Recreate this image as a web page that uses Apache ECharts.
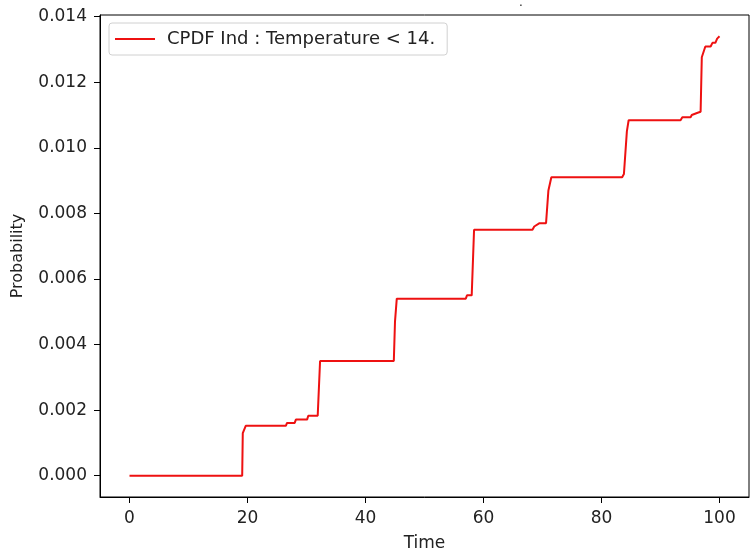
<!DOCTYPE html>
<html>
<head>
  <meta charset="UTF-8">
  <title>CPDF</title>
  <script src="https://cdn.jsdelivr.net/npm/echarts@6/dist/echarts.min.js"></script>
  <style>
    html, body { margin: 0; padding: 0; background: #fff; }
    #main { width: 750px; height: 557px; }
  </style>
</head>
<body>
<div id="main"></div>
<script>
// step curve
var times = [0, 19.1, 19.2, 19.7, 26.5, 26.7, 28.0, 28.2, 30.1, 30.3, 31.9, 32.3,
             44.8, 45.0, 45.3, 57.0, 57.2, 58.0, 58.4, 68.3, 68.6, 69.5, 70.6, 71.0, 71.5,
             83.5, 83.8, 84.1, 84.3, 84.6, 93.4, 93.7, 95.1, 95.3, 96.3, 96.8, 97.0, 97.6,
             98.5, 98.8, 99.3, 99.6, 100];
var probs = [0, 0, 0.0013, 0.00152, 0.00152, 0.00161, 0.00161, 0.00171, 0.00171, 0.00183, 0.00183, 0.0035,
             0.0035, 0.0047, 0.0054, 0.0054, 0.0055, 0.0055, 0.0075, 0.0075, 0.0076, 0.0077, 0.0077, 0.0087, 0.0091,
             0.0091, 0.0092, 0.0092, 0.0105, 0.01084, 0.01084, 0.01093, 0.01093, 0.0110, 0.01107, 0.0111, 0.01276, 0.01309,
             0.01309, 0.0132, 0.0132, 0.01333, 0.0134];
var xTicks = [0, 20, 40, 60, 80, 100];
var yTicks = [0, 0.002, 0.004, 0.006, 0.008, 0.010, 0.012, 0.014];
var seriesName = 'CPDF Ind : Temperature < 14.';

var points = [];
for (var i = 0; i < times.length; i++) {
    points.push([times[i], probs[i]]);
}

var font = 'DejaVu Sans';
var chart = echarts.init(document.getElementById('main'), null, {renderer: 'canvas'});
var option = {
    animation: false,
    title: {
        text: '.',
        left: 514,
        top: -8,
        textStyle: {fontFamily: font, fontSize: 12, fontWeight: 'normal', color: '#222'}
    },
    legend: {
        data: [seriesName],
        left: 109,
        top: 23,
        orient: 'vertical',
        padding: [7, 12, 7, 6],
        itemWidth: 40,
        itemHeight: 2,
        icon: 'rect',
        borderColor: '#d0d0d0',
        borderWidth: 1,
        borderRadius: 3,
        backgroundColor: '#fff',
        textStyle: {fontFamily: font, fontSize: 18, color: '#222', padding: [0, 0, 0, 7]}
    },
    grid: {
        left: 100,
        right: 1,
        top: 15,
        bottom: 59,
        show: true,
        borderColor: '#000',
        borderWidth: 1,
        containLabel: false
    },
    xAxis: {
        type: 'value',
        min: -5,
        max: 105,
        name: 'Time',
        nameLocation: 'middle',
        nameGap: 38,
        nameTextStyle: {fontFamily: font, fontSize: 17, color: '#222'},
        splitLine: {show: false},
        axisLine: {show: true, onZero: false, lineStyle: {color: '#000', width: 1}},
        axisTick: {show: true, customValues: xTicks, length: 6, lineStyle: {color: '#000'}},
        axisLabel: {
            customValues: xTicks,
            fontFamily: font, fontSize: 17, color: '#222', margin: 13,
            formatter: function (v) { return String(Math.round(v)); }
        }
    },
    yAxis: {
        type: 'value',
        min: -0.00065,
        max: 0.01405,
        name: 'Probability',
        nameLocation: 'middle',
        nameGap: 74,
        nameTextStyle: {fontFamily: font, fontSize: 16, color: '#222'},
        splitLine: {show: false},
        axisLine: {show: true, onZero: false, lineStyle: {color: '#000', width: 1}},
        axisTick: {show: true, customValues: yTicks, length: 6, lineStyle: {color: '#000'}},
        axisLabel: {
            customValues: yTicks,
            fontFamily: font, fontSize: 17, color: '#222', margin: 13,
            formatter: function (v) { return v.toFixed(3); }
        }
    },
    series: [{
        name: seriesName,
        type: 'line',
        data: points,
        showSymbol: false,
        symbol: 'none',
        lineStyle: {color: '#ee1111', width: 2},
        itemStyle: {color: '#ee1111'}
    }]
};
chart.setOption(option);
</script>
</body>
</html>
